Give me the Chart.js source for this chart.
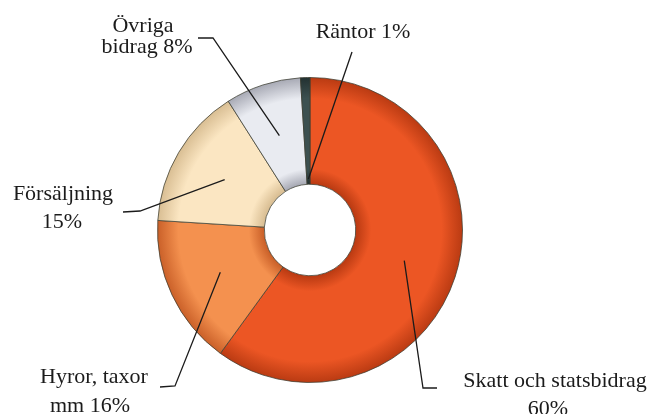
<!DOCTYPE html>
<html>
<head>
<meta charset="utf-8">
<script src="https://cdn.jsdelivr.net/npm/chart.js@4/dist/chart.umd.min.js"></script>
<style>
  body { margin: 0; background: #fff; }
  #wrap { width: 650px; height: 414px; }
</style>
</head>
<body>
<div id="wrap"><canvas id="chart"></canvas></div>
<script>
// data
const labels = ['Skatt och statsbidrag', 'Hyror, taxor mm', 'Försäljning', 'Övriga bidrag', 'Räntor'];
const values = [60, 16, 15, 8, 1];
// how each label is broken over lines, {v} becomes the value
const labelText = ['Skatt och statsbidrag\n{v}%', 'Hyror, taxor\nmm {v}%', 'Försäljning\n{v}%', 'Övriga\nbidrag {v}%', 'Räntor {v}%'];

// colours: [middle, edge]
const sliceColors = [
    ['#EC5624', '#B93A12'],
    ['#F4914F', '#C95F28'],
    ['#FBE6C2', '#D8BD92'],
    ['#E9EBF1', '#A6A8B3'],
    ['#3C5050', '#223030'],
];

// label layout, offsets from the doughnut centre
// ring: where the leader starts across the ring; path: leader points; text: baseline [dx, dy] per line
const labelLayout = [
    { ring: 0.5, path: [[113, 158], [127, 158]], text: [[245, 157], [238, 185]] },
    { ring: 0.5, path: [[-135, 156], [-150, 157]], text: [[-216, 153], [-220, 182]] },
    { ring: 0.5, path: [[-170, -19], [-187, -18]], text: [[-247, -30], [-248, -2]] },
    { ring: 0.5, path: [[-97, -192], [-112, -192]], text: [[-167, -198], [-163, -177]] },
    { ring: 0.05, path: [[42, -178]], text: [[53, -192]] },
];

function ringFill(ctx) {
    const c = sliceColors[ctx.dataIndex] || sliceColors[0];
    const base = c[0], edge = c[1];
    const chart = ctx.chart;
    const a = chart.chartArea;
    if (!a) return base;
    const cx = (a.left + a.right) / 2, cy = (a.top + a.bottom) / 2;
    const r = Math.min(a.right - a.left, a.bottom - a.top) / 2;
    const g = chart.ctx.createRadialGradient(cx, cy, 0, cx, cy, r);
    g.addColorStop(0, edge);
    g.addColorStop(0.3, edge);
    g.addColorStop(0.4, base);
    g.addColorStop(0.86, base);
    g.addColorStop(1, edge);
    return g;
}

const leaderLabels = {
    id: 'leaderLabels',
    afterDatasetsDraw(chart) {
        const ctx = chart.ctx;
        const arcs = chart.getDatasetMeta(0).data;
        ctx.save();
        ctx.strokeStyle = '#1b1b1b';
        ctx.lineWidth = 1.3;
        ctx.fillStyle = '#1b1b1b';
        ctx.font = '22px "Liberation Serif", "DejaVu Serif", serif';
        ctx.textAlign = 'center';
        ctx.textBaseline = 'alphabetic';
        arcs.forEach(function (arc, i) {
            const p = arc.getProps(['x', 'y', 'startAngle', 'endAngle', 'innerRadius', 'outerRadius'], true);
            const lay = labelLayout[i];
            const mid = (p.startAngle + p.endAngle) / 2;
            const r = p.innerRadius + lay.ring * (p.outerRadius - p.innerRadius);
            ctx.beginPath();
            ctx.moveTo(p.x + Math.cos(mid) * r, p.y + Math.sin(mid) * r);
            lay.path.forEach(function (pt) { ctx.lineTo(p.x + pt[0], p.y + pt[1]); });
            ctx.stroke();
            const lines = labelText[i].replace('{v}', values[i]).split('\n');
            lines.forEach(function (t, k) {
                ctx.fillText(t, p.x + lay.text[k][0], p.y + lay.text[k][1]);
            });
        });
        ctx.restore();
    }
};

new Chart(document.getElementById('chart'), {
    type: 'doughnut',
    data: {
        labels: labels,
        datasets: [{
            data: values,
            backgroundColor: ringFill,
            borderColor: 'rgba(60,62,50,0.75)',
            borderWidth: 1,
        }]
    },
    options: {
        responsive: true,
        maintainAspectRatio: false,
        animation: false,
        cutout: '30%',
        layout: { padding: { top: 77, bottom: 31, left: 150, right: 180 } },
        plugins: {
            legend: { display: false },
            tooltip: { enabled: false },
        }
    },
    plugins: [leaderLabels]
});
</script>
</body>
</html>
